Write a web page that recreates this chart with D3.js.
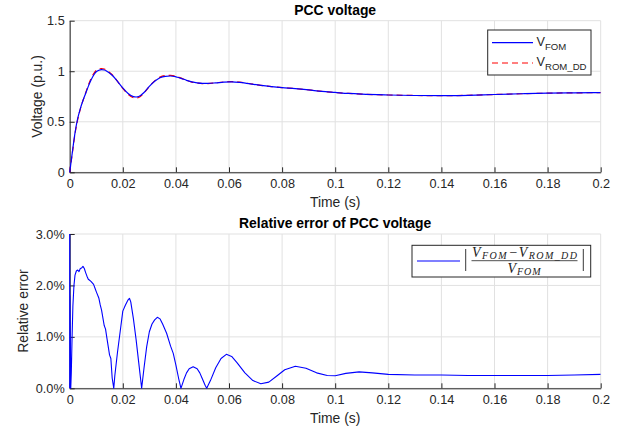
<!DOCTYPE html>
<html><head><meta charset="utf-8">
<script src="https://cdn.jsdelivr.net/npm/d3@7/dist/d3.min.js"></script>
<style>body{margin:0;background:#fff}svg{display:block}</style>
</head><body>
<svg id="c" width="621" height="432"></svg>
<script>
// ---- data ----
const timeTop = [0,0.001,0.002,0.003,0.004,0.005,0.006,0.007,0.008,0.009,0.010,0.011,0.012,0.013,0.014,0.016,0.018,0.020,0.022,0.024,0.025,0.026,0.028,0.030,0.032,0.034,0.036,0.038,0.040,0.042,0.044,0.046,0.048,0.050,0.052,0.055,0.058,0.061,0.064,0.068,0.072,0.076,0.080,0.085,0.090,0.095,0.100,0.105,0.110,0.120,0.130,0.140,0.150,0.160,0.170,0.180,0.190,0.200];
const vFOM = [0,0.2,0.39,0.53,0.63,0.71,0.78,0.85,0.91,0.96,0.995,1.01,1.015,1.012,1.0,0.96,0.9,0.835,0.78,0.748,0.745,0.75,0.79,0.85,0.9,0.935,0.95,0.953,0.945,0.93,0.91,0.895,0.885,0.88,0.88,0.885,0.892,0.895,0.89,0.875,0.86,0.848,0.838,0.828,0.815,0.80,0.79,0.78,0.773,0.765,0.76,0.758,0.762,0.77,0.777,0.783,0.786,0.788];
const vROM = [0,0.19,0.38,0.52,0.625,0.71,0.785,0.86,0.925,0.975,1.008,1.022,1.027,1.022,1.008,0.965,0.9,0.83,0.772,0.738,0.734,0.74,0.785,0.85,0.905,0.942,0.957,0.96,0.95,0.932,0.91,0.893,0.882,0.877,0.878,0.886,0.894,0.898,0.892,0.876,0.86,0.848,0.838,0.828,0.815,0.80,0.79,0.78,0.773,0.765,0.76,0.758,0.762,0.77,0.777,0.783,0.786,0.788];

const timeErr = [0,0,0.00003,0.0001,0.0004,0.0006,0.0009,0.0012,0.0016,0.002,0.0025,0.003,0.0035,0.004,0.0045,0.005,0.0055,0.006,0.0065,0.007,0.0075,0.008,0.0085,0.009,0.0095,0.010,0.011,0.0115,0.012,0.013,0.0135,0.014,0.015,0.0155,0.016,0.0166,0.017,0.018,0.019,0.020,0.021,0.022,0.0225,0.023,0.024,0.025,0.026,0.0271,0.028,0.029,0.030,0.031,0.032,0.033,0.034,0.035,0.0365,0.038,0.039,0.040,0.041,0.0419,0.043,0.044,0.045,0.0465,0.048,0.049,0.050,0.051,0.0516,0.053,0.055,0.057,0.059,0.061,0.063,0.066,0.069,0.072,0.075,0.078,0.081,0.085,0.089,0.093,0.097,0.100,0.104,0.109,0.114,0.120,0.130,0.140,0.150,0.160,0.170,0.180,0.190,0.200];
const relErr = [0,5,0.5,1.8,0,0.3,1.0,1.6,2.0,2.2,2.28,2.3,2.27,2.33,2.34,2.37,2.33,2.25,2.18,2.12,2.1,2.08,2.05,2.02,1.95,1.88,1.75,1.62,1.52,1.22,1.15,0.98,0.65,0.58,0.2,0,0.25,0.7,1.1,1.5,1.62,1.72,1.75,1.68,1.35,0.95,0.5,0,0.4,0.81,1.1,1.25,1.33,1.38,1.35,1.25,1.07,0.82,0.68,0.45,0.2,0,0.17,0.3,0.38,0.42,0.38,0.3,0.18,0.06,0,0.15,0.4,0.58,0.66,0.62,0.5,0.3,0.15,0.09,0.12,0.24,0.36,0.43,0.39,0.3,0.25,0.245,0.29,0.32,0.3,0.27,0.26,0.26,0.25,0.25,0.25,0.25,0.26,0.27];

const xTicks = [0,0.02,0.04,0.06,0.08,0.1,0.12,0.14,0.16,0.18,0.2];
const xTickLabels = ["0","0.02","0.04","0.06","0.08","0.1","0.12","0.14","0.16","0.18","0.2"];
const vTicks = [0,0.5,1,1.5];
const vTickLabels = ["0","0.5","1","1.5"];
const errTicks = [0,1,2,3];
const errTickLabels = ["0.0%","1.0%","2.0%","3.0%"];

// ---- drawing ----
const svg = d3.select("#c");
const FONT = "'Liberation Sans', Arial, Helvetica, sans-serif";
const AX = "#262626", GRID = "#e1e1e1";
const L = 69.7, R = 600.7;

function panel(top, bottom, yDomain, yTicks, yLabels, title, ylabel, ylabelX, clipId) {
  const x = d3.scaleLinear().domain([0, 0.2]).range([L, R]);
  const y = d3.scaleLinear().domain(yDomain).range([bottom, top]);
  const g = svg.append("g");
  g.append("g").selectAll("line").data(xTicks).join("line")
    .attr("x1", d => x(d)).attr("x2", d => x(d)).attr("y1", top).attr("y2", bottom)
    .attr("stroke", GRID).attr("stroke-width", 1);
  g.append("g").selectAll("line").data(yTicks).join("line")
    .attr("x1", L).attr("x2", R).attr("y1", d => y(d)).attr("y2", d => y(d))
    .attr("stroke", GRID).attr("stroke-width", 1);
  svg.append("clipPath").attr("id", clipId).append("rect")
    .attr("x", L - 2).attr("y", top).attr("width", R - L + 2).attr("height", bottom - top + 1);
  const xa = g.append("g").attr("transform", `translate(0,${bottom})`)
    .call(d3.axisBottom(x).tickValues(xTicks).tickFormat((d, i) => xTickLabels[i]).tickSizeInner(-5).tickSizeOuter(0).tickPadding(7));
  const ya = g.append("g").attr("transform", `translate(${L},0)`)
    .call(d3.axisLeft(y).tickValues(yTicks).tickFormat((d, i) => yLabels[i]).tickSizeInner(-5).tickSizeOuter(0).tickPadding(5));
  [xa, ya].forEach(a => {
    a.select(".domain").attr("stroke", AX).attr("stroke-width", 1);
    a.selectAll(".tick line").attr("stroke", AX);
    a.selectAll("text").attr("fill", AX).style("font-family", FONT).style("font-size", "12.7px");
  });
  const plot = g.append("g").attr("clip-path", `url(#${clipId})`);
  svg.append("text").attr("x", (L + R) / 2).attr("y", top - 6).attr("text-anchor", "middle")
    .style("font-family", FONT).style("font-size", "13.9px").style("font-weight", "bold").attr("fill", "#000").text(title);
  svg.append("text").attr("x", (L + R) / 2).attr("y", bottom + 35).attr("text-anchor", "middle")
    .style("font-family", FONT).style("font-size", "13.9px").attr("fill", AX).text("Time (s)");
  svg.append("text").attr("transform", `translate(${ylabelX},${(top + bottom) / 2}) rotate(-90)`).attr("text-anchor", "middle")
    .style("font-family", FONT).style("font-size", "13.9px").attr("fill", AX).text(ylabel);
  return { x, y, plot };
}

// top panel
const p1 = panel(20.7, 172.3, [0, 1.5], vTicks, vTickLabels, "PCC voltage", "Voltage (p.u.)", 41.5, "clip1");
const line1 = d3.line().x((d, i) => p1.x(timeTop[i])).y(d => p1.y(d)).curve(d3.curveMonotoneX);
p1.plot.append("path").datum(vROM).attr("d", line1).attr("fill", "none")
  .attr("stroke", "#ff0000").attr("stroke-width", 1.2).attr("stroke-dasharray", "6,4");
p1.plot.append("path").datum(vFOM).attr("d", line1).attr("fill", "none")
  .attr("stroke", "#0000ff").attr("stroke-width", 1.2);

// legend top
const lg1 = svg.append("g");
lg1.append("rect").attr("x", 487.7).attr("y", 30).attr("width", 103.3).attr("height", 45)
  .attr("fill", "#fff").attr("stroke", AX).attr("stroke-width", 1);
lg1.append("line").attr("x1", 492).attr("x2", 533).attr("y1", 42.7).attr("y2", 42.7).attr("stroke", "#0000ff").attr("stroke-width", 1.2);
lg1.append("line").attr("x1", 492).attr("x2", 533).attr("y1", 63).attr("y2", 63).attr("stroke", "#ff0000").attr("stroke-width", 1.2).attr("stroke-dasharray", "6,4");
[["FOM", 45.5], ["ROM_DD", 65.8]].forEach(([sub, yb]) => {
  const t = lg1.append("text").attr("x", 536.5).attr("y", yb).style("font-family", FONT).attr("fill", AX);
  t.append("tspan").style("font-size", "12.7px").text("V");
  t.append("tspan").style("font-size", "9.6px").attr("dy", 4.5).text(sub);
});

// bottom panel
const p2 = panel(234, 388.3, [0, 3], errTicks, errTickLabels, "Relative error of PCC voltage", "Relative error", 27.5, "clip2");
const line2 = d3.line().x((d, i) => p2.x(timeErr[i])).y(d => p2.y(d));
p2.plot.append("path").datum(relErr).attr("d", line2).attr("fill", "none")
  .attr("stroke", "#0000ff").attr("stroke-width", 1.1).attr("stroke-linejoin", "round");

// legend bottom (math expression)
const lg2 = svg.append("g");
lg2.append("rect").attr("x", 412).attr("y", 245.3).attr("width", 178.7).attr("height", 31.7)
  .attr("fill", "#fff").attr("stroke", AX).attr("stroke-width", 1);
lg2.append("line").attr("x1", 417).attr("x2", 460).attr("y1", 261).attr("y2", 261).attr("stroke", "#0000ff").attr("stroke-width", 1.1);
const MF = "'Liberation Serif', 'DejaVu Serif', serif";
[465.7, 583.3].forEach(xb => lg2.append("line").attr("x1", xb).attr("x2", xb).attr("y1", 249).attr("y2", 271).attr("stroke", "#222").attr("stroke-width", 0.9));
lg2.append("line").attr("x1", 471.5).attr("x2", 577.5).attr("y1", 260.7).attr("y2", 260.7).attr("stroke", "#222").attr("stroke-width", 0.8);
function mathText(xc, yb, parts, len) {
  const t = lg2.append("text").attr("x", xc).attr("y", yb).attr("text-anchor", "middle")
    .style("font-family", MF).style("font-style", "italic").attr("fill", "#222");
  parts.forEach(([s, kind]) => {
    const ts = t.append("tspan").text(s);
    if (kind === "sub") ts.style("font-size", "10px").attr("dy", 2.5);
    else if (kind === "op") ts.style("font-size", "14px").style("font-style", "normal").attr("dy", -2.5).attr("dx", 1.5);
    else ts.style("font-size", "14px");
  });
  if (len) t.attr("textLength", len).attr("lengthAdjust", "spacing");
  return t;
}
mathText(524.5, 256.5, [["V", "main"], ["FOM", "sub"], ["\u2212", "op"], ["V", "main"], ["ROM_DD", "sub"]], 105);
mathText(524, 272.5, [["V", "main"], ["FOM", "sub"]], 33);
</script>
</body></html>
